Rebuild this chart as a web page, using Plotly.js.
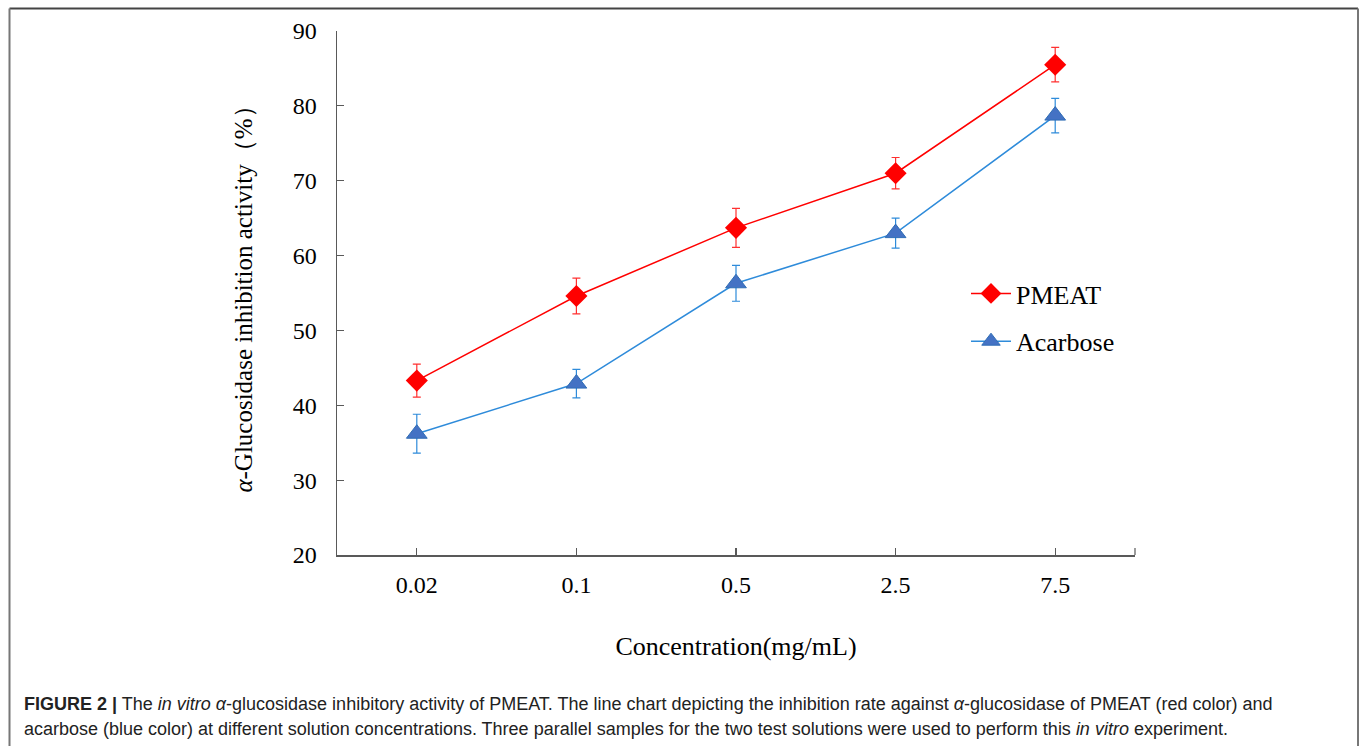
<!DOCTYPE html>
<html>
<head>
<meta charset="utf-8">
<script src="https://cdn.plot.ly/plotly-3.0.1.min.js"></script>
<style>
  html, body { margin: 0; padding: 0; background: #fff; }
  #chart { width: 1360px; height: 746px; }
</style>
</head>
<body>
<div id="chart"></div>
<script>
// ---- data ----
const concentrations = ['0.02', '0.1', '0.5', '2.5', '7.5'];
const pmeatValues = [43.3, 54.6, 63.7, 71.0, 85.5];
const pmeatErrors = [2.2, 2.4, 2.6, 2.1, 2.3];
const acarboseValues = [36.2, 42.9, 56.3, 63.0, 78.7];
const acarboseErrors = [2.6, 1.9, 2.4, 2.0, 2.3];
const yTickValues = [20, 30, 40, 50, 60, 70, 80, 90];

// ---- geometry helpers (plot area: x 337..1135, y 31..555) ----
const W = 1360, H = 746;
const L = 337, R = 1135, T = 31, B = 555;
const px = x => (x - L) / (R - L);
const py = y => (B - y) / (B - T);

const serif = 'Liberation Serif, Times New Roman, serif';
const axisColor = '#595959';

const traces = [
  {
    name: 'PMEAT',
    x: concentrations,
    y: pmeatValues,
    type: 'scatter',
    mode: 'lines+markers',
    legendgroup: 'a',
    line: { color: '#FF0000', width: 1.5 },
    marker: { symbol: 'diamond', size: 17, color: '#FF0000', line: { color: '#FF0000', width: 0 } },
    error_y: { type: 'data', array: pmeatErrors, visible: true, color: '#FF3030', thickness: 1.2, width: 4 }
  },
  {
    name: 'Acarbose',
    x: concentrations,
    y: acarboseValues,
    type: 'scatter',
    mode: 'lines+markers',
    legendgroup: 'b',
    line: { color: '#2E8BDA', width: 1.5 },
    marker: { symbol: 'triangle-up', size: 18, color: '#4472C4', line: { color: '#2F6DB5', width: 1 } },
    error_y: { type: 'data', array: acarboseErrors, visible: true, color: '#2E8BDA', thickness: 1.2, width: 4 }
  }
];

const layout = {
  width: W, height: H,
  margin: { l: L, r: W - R, t: T, b: H - B, pad: 0 },
  paper_bgcolor: '#ffffff',
  plot_bgcolor: '#ffffff',
  showlegend: true,
  font: { family: serif, color: '#000000', size: 24 },
  xaxis: {
    type: 'category',
    categoryorder: 'array',
    categoryarray: concentrations,
    range: [-0.5, 4.5],
    showgrid: false, zeroline: false,
    showline: true, linecolor: axisColor, linewidth: 1.5,
    ticks: 'inside', ticklen: 7, tickwidth: 1.2, tickcolor: axisColor,
    ticklabelstandoff: 8,
    tickfont: { family: serif, size: 24, color: '#000' },
    title: { text: 'Concentration(mg/mL)', font: { family: serif, size: 26, color: '#000' }, standoff: 39 },
    automargin: false,
    fixedrange: true
  },
  yaxis: {
    range: [20, 90],
    tickvals: yTickValues,
    ticktext: yTickValues.map(String),
    showgrid: false, zeroline: false,
    showline: true, linecolor: axisColor, linewidth: 1.5,
    ticks: 'inside', ticklen: 7, tickwidth: 1.2, tickcolor: axisColor,
    ticklabelstandoff: 14,
    tickfont: { family: serif, size: 24, color: '#000' },
    title: { text: '<i>α</i>-Glucosidase inhibition activity（%）', font: { family: serif, size: 25, color: '#000' }, standoff: 33 },
    automargin: false,
    fixedrange: true
  },
  legend: {
    x: px(966), y: py(270), xanchor: 'left', yanchor: 'top',
    bgcolor: 'rgba(0,0,0,0)', borderwidth: 0,
    font: { family: serif, size: 26, color: '#000' },
    tracegroupgap: 11,
    itemwidth: 40
  },
  shapes: [
    // figure frame
    { type: 'line', xref: 'paper', yref: 'paper', x0: px(9.5), x1: px(1358), y0: py(8.5), y1: py(8.5), line: { color: '#444', width: 2 } },
    { type: 'line', xref: 'paper', yref: 'paper', x0: px(9.5), x1: px(9.5), y0: py(8.5), y1: py(760), line: { color: '#777', width: 2 } },
    { type: 'line', xref: 'paper', yref: 'paper', x0: px(1358), x1: px(1358), y0: py(8.5), y1: py(760), line: { color: '#777', width: 2 } },
    // end tick at right of x axis
    { type: 'line', xref: 'paper', yref: 'paper', x0: 1, x1: 1, y0: 0, y1: py(548), line: { color: axisColor, width: 1.2 } }
  ],
  annotations: [
    {
      xref: 'paper', yref: 'paper', x: px(22), y: py(704), xanchor: 'left', yanchor: 'middle',
      showarrow: false, align: 'left',
      font: { family: 'Liberation Sans, Arial, sans-serif', size: 18, color: '#222' },
      text: '<b>FIGURE 2 |</b> The <i>in vitro</i> <i>α</i>-glucosidase inhibitory activity of PMEAT. The line chart depicting the inhibition rate against <i>α</i>-glucosidase of PMEAT (red color) and'
    },
    {
      xref: 'paper', yref: 'paper', x: px(22), y: py(729), xanchor: 'left', yanchor: 'middle',
      showarrow: false, align: 'left',
      font: { family: 'Liberation Sans, Arial, sans-serif', size: 18, color: '#222' },
      text: 'acarbose (blue color) at different solution concentrations. Three parallel samples for the two test solutions were used to perform this <i>in vitro</i> experiment.'
    }
  ]
};

Plotly.newPlot('chart', traces, layout, { displayModeBar: false, staticPlot: true });
</script>
</body>
</html>
